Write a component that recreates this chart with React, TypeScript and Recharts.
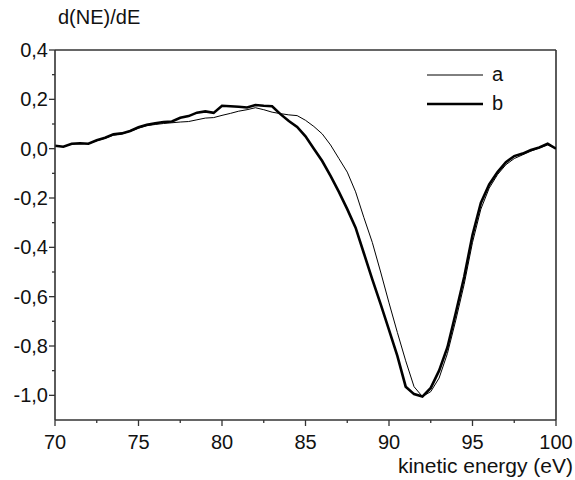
import React from "react";
import { LineChart, Line, XAxis, YAxis, ReferenceLine, Legend } from "recharts";

const energy = [
  70, 70.5, 71, 71.5, 72, 72.5, 73, 73.5, 74, 74.5, 75, 75.5, 76, 76.5, 77, 77.5,
  78, 78.5, 79, 79.5, 80, 80.5, 81, 81.5, 82, 82.5, 83, 83.5, 84, 84.5, 85, 85.5,
  86, 86.5, 87, 87.5, 88, 88.5, 89, 89.5, 90, 90.5, 91, 91.5, 92, 92.5, 93, 93.5,
  94, 94.5, 95, 95.5, 96, 96.5, 97, 97.5, 98, 98.5, 99, 99.5, 100,
];

const seriesA = [
  0.01, 0.008, 0.018, 0.02, 0.02, 0.032, 0.042, 0.055, 0.06, 0.07, 0.083, 0.093, 0.098, 0.102, 0.105, 0.108,
  0.11, 0.117, 0.124, 0.126, 0.135, 0.143, 0.152, 0.158, 0.166, 0.158, 0.148, 0.142, 0.137, 0.134, 0.115, 0.09,
  0.06, 0.015, -0.04, -0.095, -0.175, -0.28, -0.38, -0.5, -0.625, -0.745, -0.86, -0.965, -1.005, -0.985, -0.93, -0.83,
  -0.695, -0.55, -0.38, -0.245, -0.16, -0.105, -0.065, -0.04, -0.025, -0.01, 0.003, 0.015, 0.0,
];

const seriesB = [
  0.012, 0.008, 0.02, 0.022, 0.02, 0.034, 0.044, 0.058, 0.062, 0.072, 0.087, 0.097, 0.103, 0.108, 0.11, 0.125,
  0.132, 0.146, 0.151, 0.145, 0.174, 0.172, 0.17, 0.167, 0.177, 0.174, 0.172, 0.14, 0.112, 0.088, 0.05, 0.0,
  -0.05, -0.11, -0.175, -0.245, -0.32, -0.425, -0.53, -0.63, -0.735, -0.84, -0.965, -0.995, -1.005, -0.97, -0.9, -0.805,
  -0.665, -0.52, -0.35, -0.22, -0.145, -0.095, -0.055, -0.03, -0.02, -0.005, 0.005, 0.02, 0.0,
];

const xTicks = [70, 72.5, 75, 77.5, 80, 82.5, 85, 87.5, 90, 92.5, 95, 97.5, 100];
const xMajor = [70, 75, 80, 85, 90, 95, 100];
const yTicks = [-1.0, -0.9, -0.8, -0.7, -0.6, -0.5, -0.4, -0.3, -0.2, -0.1, 0.0, 0.1, 0.2, 0.3, 0.4];
const yMajor = [-1.0, -0.8, -0.6, -0.4, -0.2, 0.0, 0.2, 0.4];

const data = energy.map((e, i) => ({ energy: e, a: seriesA[i], b: seriesB[i] }));

const FONT = "'Liberation Sans', Arial, sans-serif";
const FS = 20;
const AXIS = "#333";

const fmt = (v: number) => v.toFixed(1).replace(".", ",");

const XTick = (props: any) => {
  const { x, y, payload } = props;
  const major = xMajor.some((m) => Math.abs(m - payload.value) < 1e-6);
  return (
    <g>
      <line x1={x} x2={x} y1={y} y2={y + (major ? 6 : 3)} stroke={AXIS} strokeWidth={1.3} />
      {major && (
        <text x={x} y={y + 22} textAnchor="middle" dominantBaseline="central" fontFamily={FONT} fontSize={FS} fill="#111">
          {payload.value}
        </text>
      )}
    </g>
  );
};

const YTick = (props: any) => {
  const { x, y, payload } = props;
  const major = yMajor.some((m) => Math.abs(m - payload.value) < 1e-6);
  return (
    <g>
      <line x1={x - (major ? 6 : 3)} x2={x} y1={y} y2={y} stroke={AXIS} strokeWidth={1.3} />
      {major && (
        <text x={x - 7} y={y} textAnchor="end" dominantBaseline="central" fontFamily={FONT} fontSize={FS} fill="#111">
          {fmt(payload.value)}
        </text>
      )}
    </g>
  );
};

const LegendContent = () => (
  <div style={{ fontFamily: FONT, fontSize: FS, color: "#111" }}>
    {[
      { name: "a", w: 1 },
      { name: "b", w: 2.6 },
    ].map((r) => (
      <div key={r.name} style={{ display: "flex", alignItems: "center", height: 29 }}>
        <svg width={56} height={10} style={{ display: "block" }}>
          <line x1={0} x2={56} y1={5} y2={5} stroke="#000" strokeWidth={r.w} />
        </svg>
        <span style={{ marginLeft: 9, lineHeight: "29px" }}>{r.name}</span>
      </div>
    ))}
  </div>
);

export default function App() {
  return (
    <div style={{ position: "absolute", left: 0, top: 0, width: 575, height: 480, background: "#fff" }}>
      <LineChart
        width={575}
        height={480}
        data={data}
        margin={{ top: 50, right: 19, bottom: 0, left: 5 }}
      >
        <XAxis
          dataKey="energy"
          type="number"
          domain={[70, 100]}
          ticks={xTicks}
          interval={0}
          height={60}
          axisLine={{ stroke: AXIS, strokeWidth: 1.6 }}
          tickLine={false}
          tickSize={0}
          tickMargin={0}
          tick={<XTick />}
          allowDataOverflow
        />
        <YAxis
          type="number"
          domain={[-1.1, 0.4]}
          ticks={yTicks}
          interval={0}
          width={50}
          axisLine={{ stroke: AXIS, strokeWidth: 1.6 }}
          tickLine={false}
          tickSize={0}
          tickMargin={0}
          tick={<YTick />}
          allowDataOverflow
        />
        <ReferenceLine y={0.4} stroke={AXIS} strokeWidth={1.4} />
        <ReferenceLine x={100} stroke={AXIS} strokeWidth={1.6} />
        <Line dataKey="a" type="linear" stroke="#000" strokeWidth={1} dot={false} isAnimationActive={false} />
        <Line dataKey="b" type="linear" stroke="#000" strokeWidth={2.6} dot={false} isAnimationActive={false} />
        <Legend
          layout="horizontal"
          verticalAlign="middle"
          align="center"
          content={<LegendContent />}
          wrapperStyle={{ position: "absolute", left: 427, top: 60, width: 90, height: 58 }}
        />
      </LineChart>
      <div style={{ position: "absolute", left: 58, top: 6, fontFamily: FONT, fontSize: FS, color: "#111", whiteSpace: "nowrap" }}>
        d(NE)/dE
      </div>
      <div style={{ position: "absolute", right: 2, top: 454, fontFamily: FONT, fontSize: 21, color: "#111", whiteSpace: "nowrap" }}>
        kinetic energy (eV)
      </div>
    </div>
  );
}
